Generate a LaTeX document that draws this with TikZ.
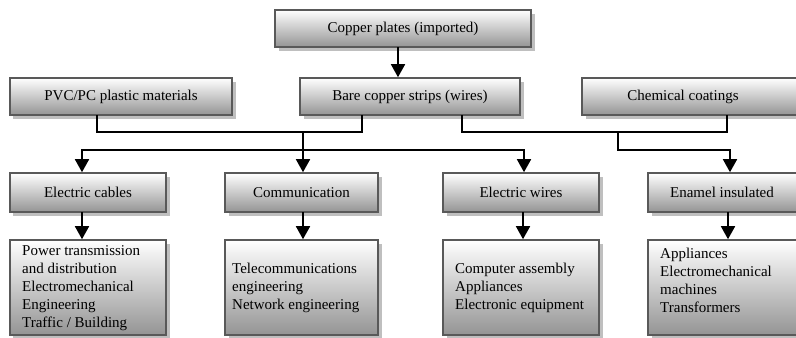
\documentclass[tikz,border=0pt]{standalone}
\usepackage{fontspec}
\setmainfont{Liberation Serif}
\newfontfamily\boxfont{Liberation Serif}
\usetikzlibrary{arrows.meta,shadows}
\tikzset{
  box/.style={draw=black!65, line width=1.6bp, top color=white, bottom color=black!42,
    drop shadow={shadow xshift=3.5bp, shadow yshift=-3.5bp, fill=black!25, opacity=1},
    inner sep=0pt, font=\boxfont\fontsize{15bp}{18bp}\selectfont},
  txt/.style={anchor=west, align=left, inner sep=0pt, font=\boxfont\fontsize{15bp}{18bp}\selectfont},
  conn/.style={line width=1.7bp, black, line cap=rect},
  arr/.style={conn, -{Triangle[width=14bp,length=13bp]}}
}
\begin{document}
\begin{tikzpicture}[x=1bp, y=-1bp]
\clip (0,0) rectangle (796,337);
\fill[white] (0,0) rectangle (796,337);
% top
\node[box, minimum width=256bp, minimum height=37bp] (copper) at (403,28.5) {Copper plates (imported)};
\node[box, minimum width=222bp, minimum height=37bp] (pvc) at (121,96.5) {PVC/PC plastic materials};
\node[box, minimum width=220bp, minimum height=37bp] (bare) at (410,96.5) {Bare copper strips (wires)};
\node[box, minimum width=228bp, minimum height=37bp] (chem) at (696,96.5) {\hspace*{-26bp}Chemical coatings};
% level 1
\node[box, minimum width=156bp, minimum height=39bp] (ecab) at (88,192.5) {Electric cables};
\node[box, minimum width=153bp, minimum height=39bp] (comm) at (301.5,192.5) {Communication};
\node[box, minimum width=156bp, minimum height=39bp] (ewire) at (521,192.5) {Electric wires};
\node[box, minimum width=162bp, minimum height=39bp] (enam) at (729,192.5) {\hspace*{-14bp}Enamel insulated};
% level 2
\node[box, minimum width=156bp, minimum height=95bp] (d1) at (88,287.5) {};
\node[box, minimum width=153bp, minimum height=95bp] (d2) at (301.5,287.5) {};
\node[box, minimum width=156bp, minimum height=95bp] (d3) at (521,287.5) {};
\node[box, minimum width=162bp, minimum height=95bp] (d4) at (729,287.5) {};
\node[txt] (t1) at (22,288) {Power transmission\\and distribution\\Electromechanical\\Engineering\\Traffic / Building};
\node[txt] (t2) at (232,288) {Telecommunications\\engineering\\Network engineering};
\node[txt] (t3) at (455,288) {Computer assembly\\Appliances\\Electronic equipment};
\node[txt] (t4) at (660,280) {Appliances\\Electromechanical\\machines\\Transformers};
% connectors
\coordinate (a0) at (398,0);
\draw[arr] (copper.south -| a0) -- (bare.north -| a0);
\coordinate (j1) at (97,132);
\coordinate (j2) at (362,132);
\coordinate (j3) at (303,132);
\draw[conn] (pvc.south -| j1) -- (j1) -- (j2) -- (bare.south -| j2);
\draw[arr] (j3) -- (comm.north -| j3);
\coordinate (h1) at (82,150);
\coordinate (h2) at (524,150);
\draw[arr] (h2) -- (h1) -- (ecab.north -| h1);
\draw[arr] (h2) -- (ewire.north -| h2);
\coordinate (k1) at (462,132);
\coordinate (k2) at (727,132);
\coordinate (k3) at (618,132);
\coordinate (k4) at (618,150);
\coordinate (k5) at (730,150);
\draw[conn] (bare.south -| k1) -- (k1) -- (k2) -- (chem.south -| k2);
\draw[arr] (k3) -- (k4) -- (k5) -- (enam.north -| k5);
% level 1 to level 2
\coordinate (m1) at (82,0);
\coordinate (m2) at (303,0);
\coordinate (m3) at (523,0);
\coordinate (m4) at (728,0);
\draw[arr] (ecab.south -| m1) -- (d1.north -| m1);
\draw[arr] (comm.south -| m2) -- (d2.north -| m2);
\draw[arr] (ewire.south -| m3) -- (d3.north -| m3);
\draw[arr] (enam.south -| m4) -- (d4.north -| m4);
\end{tikzpicture}
\end{document}
